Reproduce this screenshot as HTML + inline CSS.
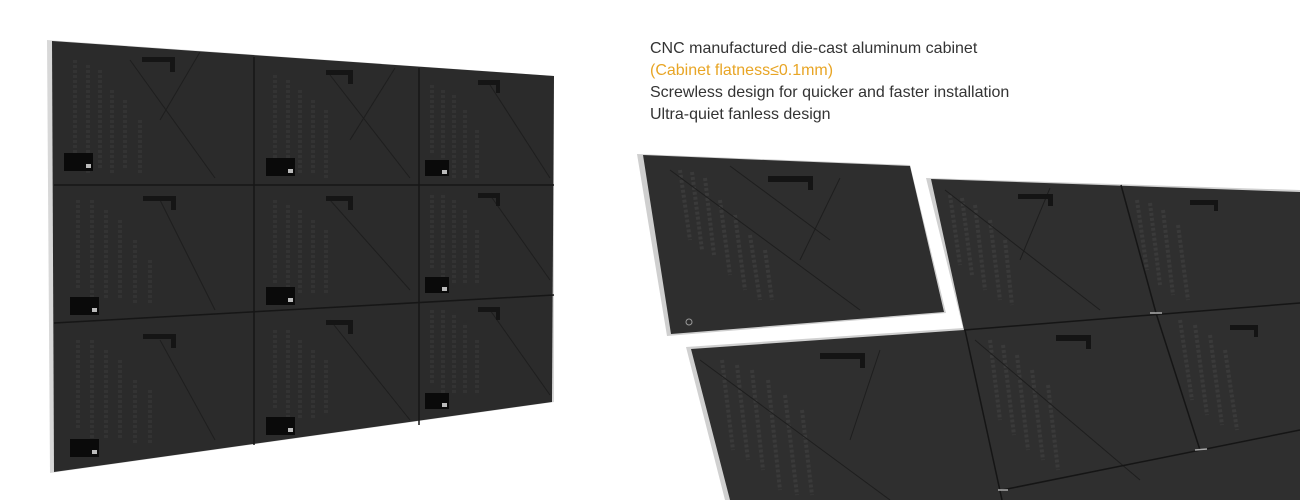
<!DOCTYPE html>
<html><head><meta charset="utf-8"><style>
html,body{margin:0;padding:0;background:#fff;width:1300px;height:500px;overflow:hidden}
.t{position:absolute;left:650px;font-family:"Liberation Sans",sans-serif;font-size:16px;color:#333;line-height:22px}
</style></head><body>
<svg width="1300" height="500" style="position:absolute;left:0;top:0">
<!-- left wall -->
<polygon points="47,40 554,76 554,402 50,473" fill="#d8d8d8"/>
<polygon points="52,41 554,76 552,402 54,472" fill="#2b2b2b"/>
<g stroke="#333" stroke-width="4" stroke-dasharray="3 2" fill="none">
<line x1="75" y1="60" x2="75" y2="170"/><line x1="88" y1="65" x2="88" y2="175"/><line x1="100" y1="70" x2="100" y2="170"/><line x1="112" y1="90" x2="112" y2="175"/><line x1="125" y1="100" x2="125" y2="170"/><line x1="140" y1="120" x2="140" y2="175"/>
<line x1="78" y1="200" x2="78" y2="290"/><line x1="92" y1="200" x2="92" y2="300"/><line x1="106" y1="210" x2="106" y2="300"/><line x1="120" y1="220" x2="120" y2="300"/><line x1="135" y1="240" x2="135" y2="305"/><line x1="150" y1="260" x2="150" y2="305"/>
<line x1="78" y1="340" x2="78" y2="430"/><line x1="92" y1="340" x2="92" y2="440"/><line x1="106" y1="350" x2="106" y2="440"/><line x1="120" y1="360" x2="120" y2="440"/><line x1="135" y1="380" x2="135" y2="445"/><line x1="150" y1="390" x2="150" y2="445"/>
<line x1="275" y1="75" x2="275" y2="170"/><line x1="288" y1="80" x2="288" y2="175"/><line x1="300" y1="90" x2="300" y2="175"/><line x1="313" y1="100" x2="313" y2="175"/><line x1="326" y1="110" x2="326" y2="178"/>
<line x1="275" y1="200" x2="275" y2="285"/><line x1="288" y1="205" x2="288" y2="295"/><line x1="300" y1="210" x2="300" y2="295"/><line x1="313" y1="220" x2="313" y2="295"/><line x1="326" y1="230" x2="326" y2="295"/>
<line x1="275" y1="330" x2="275" y2="410"/><line x1="288" y1="330" x2="288" y2="420"/><line x1="300" y1="340" x2="300" y2="420"/><line x1="313" y1="350" x2="313" y2="420"/><line x1="326" y1="360" x2="326" y2="415"/>
<line x1="432" y1="85" x2="432" y2="155"/><line x1="443" y1="90" x2="443" y2="175"/><line x1="454" y1="95" x2="454" y2="178"/><line x1="465" y1="110" x2="465" y2="178"/><line x1="477" y1="130" x2="477" y2="178"/>
<line x1="432" y1="195" x2="432" y2="270"/><line x1="443" y1="195" x2="443" y2="285"/><line x1="454" y1="200" x2="454" y2="285"/><line x1="465" y1="210" x2="465" y2="285"/><line x1="477" y1="230" x2="477" y2="285"/>
<line x1="432" y1="310" x2="432" y2="385"/><line x1="443" y1="310" x2="443" y2="395"/><line x1="454" y1="315" x2="454" y2="395"/><line x1="465" y1="325" x2="465" y2="395"/><line x1="477" y1="340" x2="477" y2="395"/>
</g>
<g stroke="#1e1e1e" stroke-width="1" fill="none">
<line x1="130" y1="60" x2="215" y2="178"/><line x1="200" y1="52" x2="160" y2="120"/>
<line x1="160" y1="200" x2="215" y2="310"/><line x1="160" y1="340" x2="215" y2="440"/>
<line x1="330" y1="75" x2="410" y2="178"/><line x1="395" y1="68" x2="350" y2="140"/>
<line x1="330" y1="200" x2="410" y2="290"/><line x1="330" y1="320" x2="410" y2="420"/>
<line x1="490" y1="85" x2="550" y2="178"/><line x1="490" y1="195" x2="550" y2="280"/><line x1="490" y1="310" x2="550" y2="395"/>
</g>
<g stroke="#161616" stroke-width="1.5" fill="none">
<line x1="254" y1="57" x2="254" y2="445"/>
<line x1="419" y1="68" x2="419" y2="425"/>
<line x1="54" y1="185" x2="554" y2="185"/>
<line x1="54" y1="323" x2="554" y2="295"/>
</g>
<g fill="#151515">
<path d="M142 57h33v15h-5v-10h-28z"/><path d="M326 70h27v14h-5v-9h-22z"/><path d="M478 80h22v13h-4v-8h-18z"/>
<path d="M143 196h33v14h-5v-9h-28z"/><path d="M326 196h27v14h-5v-9h-22z"/><path d="M478 193h22v13h-4v-8h-18z"/>
<path d="M143 334h33v14h-5v-9h-28z"/><path d="M326 320h27v14h-5v-9h-22z"/><path d="M478 307h22v13h-4v-8h-18z"/>
</g>
<g fill="#0a0a0a">
<rect x="64" y="153" width="29" height="18"/><rect x="266" y="158" width="29" height="18"/><rect x="425" y="160" width="24" height="16"/>
<rect x="70" y="297" width="29" height="18"/><rect x="266" y="287" width="29" height="18"/><rect x="425" y="277" width="24" height="16"/>
<rect x="70" y="439" width="29" height="18"/><rect x="266" y="417" width="29" height="18"/><rect x="425" y="393" width="24" height="16"/>
</g>
<g fill="#bbb">
<rect x="86" y="164" width="5" height="4"/><rect x="288" y="169" width="5" height="4"/><rect x="442" y="170" width="5" height="4"/>
<rect x="92" y="308" width="5" height="4"/><rect x="288" y="298" width="5" height="4"/><rect x="442" y="287" width="5" height="4"/>
<rect x="92" y="450" width="5" height="4"/><rect x="288" y="428" width="5" height="4"/><rect x="442" y="403" width="5" height="4"/>
</g>
<!-- right panels -->
<polygon points="637,154 910,165 946,313 667,336" fill="#cfcfcf"/>
<polygon points="643,155 910,166 944,312 671,334" fill="#2e2e2e"/>
<polygon points="926,178 1300,190 1300,500 725,500 686,347 963,328" fill="#d0d0d0"/>
<polygon points="931,179 1300,192 1300,500 730,500 691,349 964,330" fill="#2f2f2f"/>
<g stroke="#3a3a3a" stroke-width="4" stroke-dasharray="3 2" fill="none">
<line x1="680" y1="170" x2="690" y2="240"/><line x1="692" y1="172" x2="702" y2="250"/><line x1="705" y1="178" x2="714" y2="255"/><line x1="720" y1="200" x2="730" y2="275"/><line x1="735" y1="215" x2="745" y2="290"/><line x1="750" y1="235" x2="760" y2="300"/><line x1="765" y1="250" x2="772" y2="300"/>
<line x1="950" y1="195" x2="960" y2="265"/><line x1="962" y1="198" x2="972" y2="275"/><line x1="975" y1="205" x2="985" y2="290"/><line x1="990" y1="220" x2="1000" y2="300"/><line x1="1005" y1="240" x2="1012" y2="305"/>
<line x1="1137" y1="200" x2="1147" y2="270"/><line x1="1150" y1="203" x2="1160" y2="285"/><line x1="1163" y1="210" x2="1173" y2="295"/><line x1="1178" y1="225" x2="1188" y2="300"/>
<line x1="722" y1="360" x2="733" y2="450"/><line x1="737" y1="365" x2="748" y2="460"/><line x1="752" y1="370" x2="763" y2="470"/><line x1="768" y1="380" x2="780" y2="490"/><line x1="785" y1="395" x2="797" y2="495"/><line x1="802" y1="410" x2="812" y2="495"/>
<line x1="990" y1="340" x2="1000" y2="420"/><line x1="1003" y1="345" x2="1014" y2="435"/><line x1="1017" y1="355" x2="1028" y2="450"/><line x1="1032" y1="370" x2="1043" y2="460"/><line x1="1048" y1="385" x2="1058" y2="470"/>
<line x1="1180" y1="320" x2="1192" y2="400"/><line x1="1195" y1="325" x2="1207" y2="415"/><line x1="1210" y1="335" x2="1222" y2="425"/><line x1="1225" y1="350" x2="1237" y2="430"/>
</g>
<g stroke="#1e1e1e" stroke-width="1" fill="none">
<line x1="670" y1="170" x2="860" y2="310"/><line x1="730" y1="166" x2="830" y2="240"/><line x1="840" y1="178" x2="800" y2="260"/>
<line x1="945" y1="190" x2="1100" y2="310"/><line x1="1050" y1="188" x2="1020" y2="260"/>
<line x1="700" y1="360" x2="890" y2="500"/><line x1="880" y1="350" x2="850" y2="440"/><line x1="975" y1="340" x2="1140" y2="480"/>
</g>
<g stroke="#151515" stroke-width="1.5" fill="none">
<line x1="1121" y1="185" x2="1156" y2="313"/><line x1="1156" y1="313" x2="1200" y2="450"/>
<line x1="964" y1="330" x2="1300" y2="303"/><line x1="965" y1="330" x2="1002" y2="500"/>
<line x1="1002" y1="490" x2="1300" y2="430"/>
</g>
<g stroke="#aaa" stroke-width="1.5"><line x1="1150" y1="313" x2="1162" y2="313"/><line x1="1195" y1="450" x2="1207" y2="449"/><line x1="998" y1="490" x2="1008" y2="490"/></g>
<g fill="#141414">
<path d="M768 176h45v14h-5v-8h-40z"/><path d="M1018 194h35v12h-5v-7h-30z"/><path d="M1190 200h28v11h-4v-6h-24z"/>
<path d="M820 353h45v15h-5v-9h-40z"/><path d="M1056 335h35v14h-5v-8h-30z"/><path d="M1230 325h28v12h-4v-7h-24z"/>
</g>
<circle cx="689" cy="322" r="3" fill="none" stroke="#999" stroke-width="1"/>
</svg>
<div class="t" style="top:38px">CNC manufactured die-cast aluminum cabinet</div>
<div class="t" style="top:60px;color:#e8a525">(Cabinet flatness≤0.1mm)</div>
<div class="t" style="top:82px">Screwless design for quicker and faster installation</div>
<div class="t" style="top:104px">Ultra-quiet fanless design</div>
</body></html>
